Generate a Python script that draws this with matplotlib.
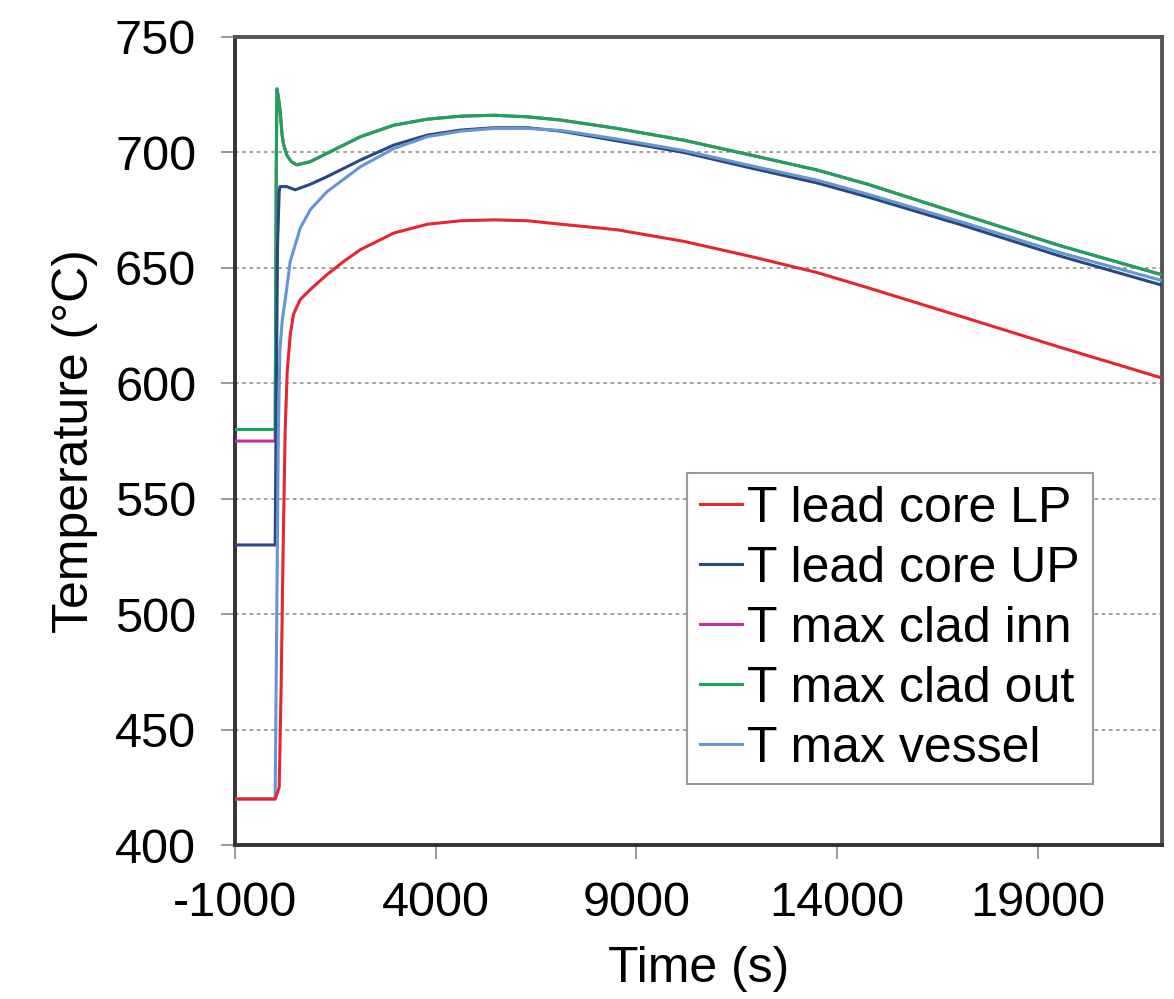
import numpy as np
import matplotlib
matplotlib.use('Agg')
import matplotlib.pyplot as plt

plt.rcParams['font.family'] = ['Liberation Sans', 'DejaVu Sans']
plt.rcParams['axes.unicode_minus'] = False

# lead core lower plenum
t_lp = [-1000, 0, 100, 150, 200, 250, 300, 375, 458, 625, 875, 1292, 1708, 2125, 2958, 3792,
        4625, 5458, 6292, 7125, 8520, 10180, 11840, 13500, 14750, 17085, 19580, 22100]
T_lp = [420, 420, 425, 470, 530, 580, 605, 621, 630, 636.3, 640.6, 647.1, 652.8, 657.9, 665.1,
        668.9, 670.4, 670.8, 670.4, 668.9, 666.5, 661.5, 655, 648, 641.5, 629, 615.5, 602.3]

# lead core upper plenum
t_up = [-1000, 0, 30, 60, 100, 120, 290, 500, 875, 1292, 2125, 2958, 3792, 4625, 5458, 6292,
        7125, 8520, 10180, 11840, 13500, 14750, 17085, 19580, 22100]
T_up = [530, 530, 600, 660, 683, 685.2, 685.2, 683.8, 686.2, 689.5, 696.7, 703.2, 707.5, 709.7,
        710.7, 710.7, 709.2, 705, 700, 693.3, 686.8, 680.8, 668.7, 655, 642.5]

# max cladding inner
t_inn = [-1000, 0, 30, 45, 80, 125, 170, 208, 290, 400, 540, 875, 1292, 2125, 2958, 3792, 4625,
         5458, 6292, 7125, 8520, 10180, 11840, 13500, 14750, 17085, 19580, 22100]
T_inn = [575, 575, 700, 727.5, 724, 717.6, 708, 703.5, 698.9, 696, 694.6, 696, 699.6, 706.8,
         711.8, 714.4, 715.7, 716.1, 715.4, 714, 710.4, 705.3, 698.9, 692.4, 686.3, 673.3, 659.5, 647]

# max cladding outer
t_out = [-1000, 0, 30, 45, 80, 125, 170, 208, 290, 400, 540, 875, 1292, 2125, 2958, 3792, 4625,
         5458, 6292, 7125, 8520, 10180, 11840, 13500, 14750, 17085, 19580, 22100]
T_out = [580, 580, 700, 727.5, 724, 717.6, 708, 703.5, 698.9, 696, 694.6, 696, 699.6, 706.8,
         711.8, 714.4, 715.7, 716.1, 715.4, 714, 710.4, 705.3, 698.9, 692.4, 686.3, 673.3, 659.5, 647]

# max vessel
t_ves = [-1000, 0, 40, 80, 120, 180, 250, 375, 625, 875, 1292, 2125, 2958, 3792, 4625, 5458,
         6292, 7125, 8520, 10180, 11840, 13500, 14750, 17085, 19580, 22100]
T_ves = [420, 420, 500, 580, 615, 628, 636, 652.8, 667.2, 675.2, 683, 693.8, 701.7, 706.8, 709.2,
         710.4, 710.4, 709.5, 705.8, 700.8, 694.3, 688, 682, 670, 656.5, 644.5]

fig = plt.figure(figsize=(11.74, 9.99), dpi=100)
ax = fig.add_axes([0.2002, 0.154, 0.7896, 0.809])

ax.plot(t_inn, T_inn, color='#c4309f', lw=2.2, label='T max clad inn', zorder=3)
ax.plot(t_out, T_out, color='#1aa55a', lw=2.2, label='T max clad out', zorder=4)
ax.plot(t_up, T_up, color='#2a4880', lw=2.2, label='T lead core UP', zorder=5)
ax.plot(t_ves, T_ves, color='#6595d5', lw=2.2, label='T max vessel', zorder=6)
ax.plot(t_lp, T_lp, color='#e6262e', lw=2.2, label='T lead core LP', zorder=7)

ax.set_xlim(-1000, 22100)
ax.set_ylim(400, 750)
ax.set_xticks(np.arange(-1000, 22000, 5000))
ax.set_yticks(np.arange(400, 751, 50))
ax.yaxis.grid(True, color='#9a9a9a', linestyle=(0, (2, 2)), lw=1.3)
ax.set_axisbelow(True)

for s in ax.spines.values():
    s.set_color('#555555')
    s.set_linewidth(2.8)
ax.spines['left'].set_color('#333333')
ax.spines['bottom'].set_color('#333333')

ax.tick_params(direction='out', length=10, width=1.2, color='#888888', labelsize=35)
ax.tick_params(axis='y', pad=18)
ax.tick_params(axis='x', pad=16)
ax.set_xlabel('Time (s)', fontsize=36, labelpad=14)
ax.set_ylabel('Temperature (°C)', fontsize=36, labelpad=12)

h, l = ax.get_legend_handles_labels()
order = [4, 2, 0, 1, 3]
leg = ax.legend([h[i] for i in order], [l[i] for i in order], loc='upper left',
                bbox_to_anchor=(0.488, 0.46), fontsize=36, fancybox=False, framealpha=1,
                edgecolor='#999999', handlelength=0.85, handletextpad=0.1, labelspacing=0.28,
                borderpad=0.25, borderaxespad=0)
leg.get_frame().set_linewidth(1.5)

fig.savefig('out.png', dpi=100)
